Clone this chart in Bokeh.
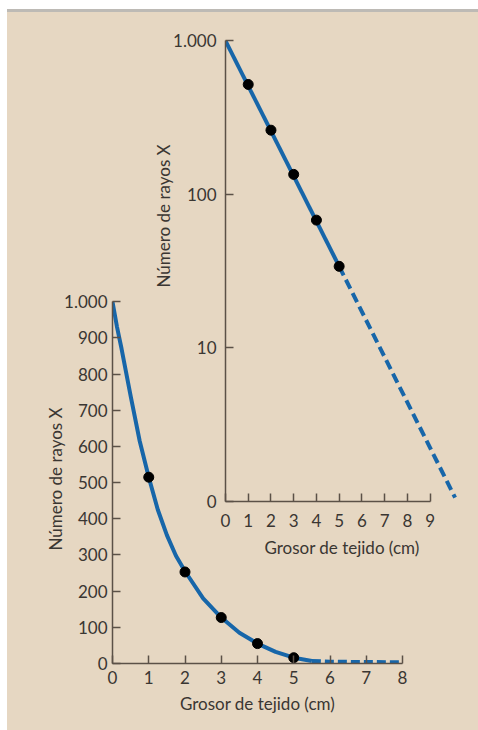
from bokeh.plotting import figure
from bokeh.models import FixedTicker, GridBox, Range1d, Column, Title
from bokeh.embed import file_html
from bokeh.resources import INLINE

# ---------------- data ----------------
# linear chart (bottom-left)
lin_tick_x = [0, 1, 2, 3, 4, 5, 6, 7, 8]
lin_tick_y = [0, 100, 200, 300, 400, 500, 600, 700, 800, 900, 1000]
lin_tick_y_labels = ["0", "100", "200", "300", "400", "500", "600", "700", "800", "900", "1.000"]
lin_curve_x = [0, 0.125, 0.25, 0.375, 0.5, 0.75, 1, 1.25, 1.5, 1.75, 2, 2.5, 3, 3.5, 4, 4.5, 5, 5.5]
lin_curve_y = [1000, 930, 870, 805, 740, 615, 515, 425, 355, 298, 255, 180, 127, 85, 55, 32, 16, 7]
lin_dash_x = [5.5, 6, 7, 8]
lin_dash_y = [7, 5, 4, 3.5]
lin_pts_x = [1, 2, 3, 4, 5]
lin_pts_y = [515, 253, 127, 55, 16]

# log chart (inset, top-right)
log_tick_x = [0, 1, 2, 3, 4, 5, 6, 7, 8, 9]
log_tick_y = [1, 10, 100, 1000]
log_tick_y_labels = ["0", "10", "100", "1.000"]
log_line_x = [0, 5]
log_line_y = [1000, 34]
log_dash_x = [5, 10.1]
log_dash_y = [34, 1.06]
log_pts_x = [1, 2, 3, 4, 5]
log_pts_y = [520, 262, 135, 68, 34]

x_label = "Grosor de tejido (cm)"
y_label = "Número de rayos X"

# ---------------- style ----------------
BEIGE = "#E6D7C2"
BLUE = "#1766A9"
AXIS = "#5b5147"
TEXT = "#3a3632"
FONT = "Lato"
W, H = 478, 730


def style_axes(p):
    for ax in (p.xaxis[0], p.yaxis[0]):
        ax.axis_line_color = AXIS
        ax.axis_line_width = 1.5
        ax.major_tick_line_color = AXIS
        ax.major_tick_line_width = 1.5
        ax.major_tick_in = 8
        ax.major_tick_out = 0
        ax.minor_tick_line_color = None
        ax.major_label_text_font = FONT
        ax.major_label_text_font_size = "17px"
        ax.major_label_text_color = TEXT
        ax.axis_label_text_font = FONT
        ax.axis_label_text_font_size = "17px"
        ax.axis_label_text_font_style = "normal"
        ax.axis_label_text_color = TEXT
    p.xgrid.grid_line_color = None
    p.ygrid.grid_line_color = None
    p.background_fill_alpha = 0
    p.border_fill_alpha = 0
    p.outline_line_color = None


# ---------- linear chart ----------
p1 = figure(width=W, height=H, output_backend="svg", toolbar_location=None,
            x_range=Range1d(0, 8), y_range=Range1d(0, 1020),
            min_border_left=112, min_border_right=76,
            min_border_top=294, min_border_bottom=67)
style_axes(p1)
p1.xaxis.ticker = FixedTicker(ticks=lin_tick_x)
p1.yaxis.ticker = FixedTicker(ticks=lin_tick_y)
p1.yaxis.major_label_overrides = {t: l for t, l in zip(lin_tick_y, lin_tick_y_labels)}
p1.yaxis.bounds = (0, 1000)
p1.xaxis.axis_label = x_label
p1.yaxis.axis_label = y_label
p1.xaxis.major_label_standoff = 7
p1.xaxis.axis_label_standoff = 6
p1.yaxis.major_label_standoff = 5
p1.yaxis.axis_label_standoff = -5

p1.line(lin_curve_x, lin_curve_y, line_color=BLUE, line_width=4)
p1.line(lin_dash_x, lin_dash_y, line_color=BLUE, line_width=4, line_dash="9 4")
p1.scatter(lin_pts_x, lin_pts_y, size=10, color="black")

# ---------- log chart ----------
p2 = figure(width=W, height=H, output_backend="svg", toolbar_location=None,
            x_range=Range1d(0, 10.25), y_range=Range1d(1, 1100), y_axis_type="log",
            min_border_left=225, min_border_right=20,
            min_border_top=34, min_border_bottom=229)
style_axes(p2)
p2.xaxis.ticker = FixedTicker(ticks=log_tick_x)
p2.yaxis.ticker = FixedTicker(ticks=log_tick_y)
p2.yaxis.major_label_overrides = {t: l for t, l in zip(log_tick_y, log_tick_y_labels)}
p2.xaxis.bounds = (0, 9)
p2.yaxis.bounds = (1, 1000)
p2.xaxis.axis_label = x_label
p2.xaxis.major_label_standoff = 12
p2.xaxis.axis_label_standoff = 7
p2.yaxis.major_label_standoff = 9

p2.line(log_line_x, log_line_y, line_color=BLUE, line_width=4)
p2.line(log_dash_x, log_dash_y, line_color=BLUE, line_width=4, line_dash="10 5")
p2.scatter(log_pts_x, log_pts_y, size=10, color="black")

p2.add_layout(Title(text=y_label, align="left", offset=214, standoff=-7,
                    text_font=FONT, text_font_size="17px", text_font_style="normal",
                    text_color=TEXT), "left")

c1 = Column(children=[p1], width=W, height=H)
c2 = Column(children=[p2], width=W, height=H)
bg = ("linear-gradient(to right, #ffffff 0px, #ffffff 7px, transparent 7px), "
      f"linear-gradient(to bottom, #ffffff 0px, #ffffff 9px, #bdbab5 9px, #bdbab5 12px, {BEIGE} 12px)")
grid = GridBox(children=[(c1, 0, 0), (c2, 0, 0)], styles={"background": bg})

open("out.html", "w").write(file_html(grid, INLINE))
